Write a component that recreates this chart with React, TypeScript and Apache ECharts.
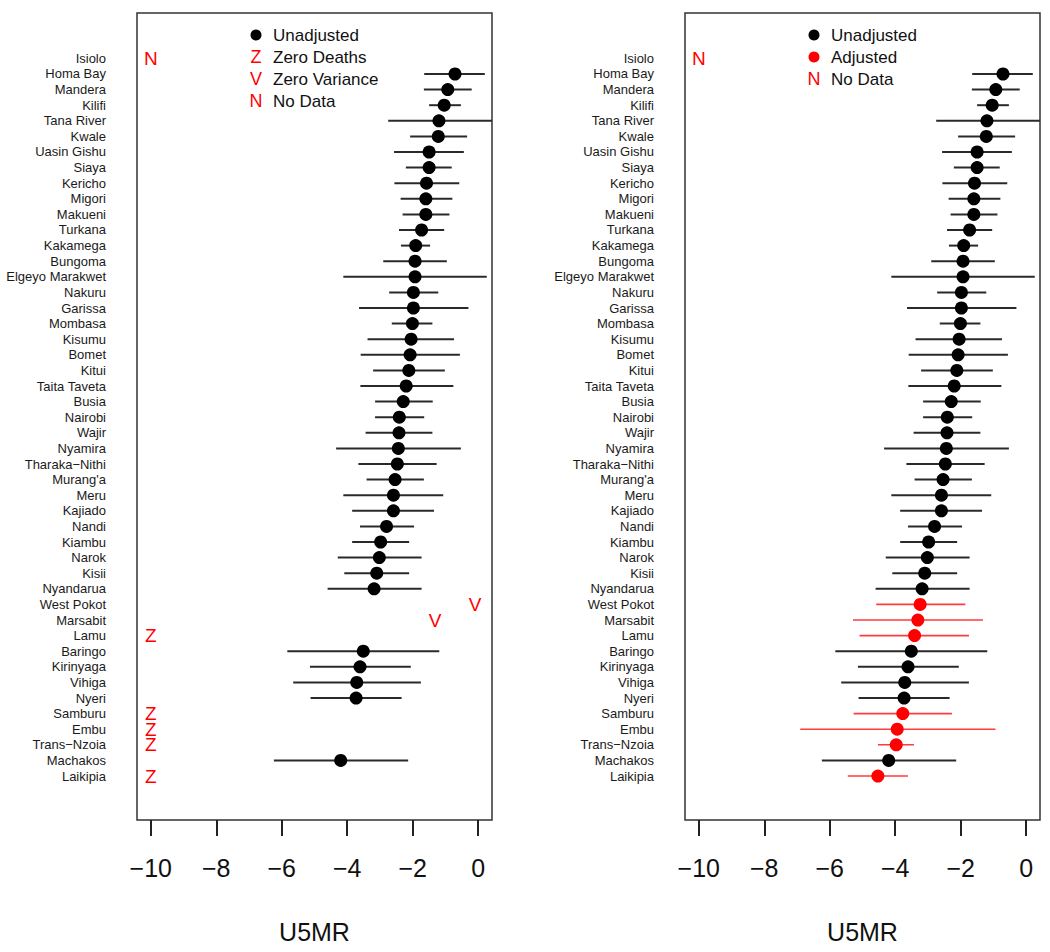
import React, { useEffect, useRef } from "react";
import * as echarts from "echarts";

const counties = [
  "Isiolo", "Homa Bay", "Mandera", "Kilifi", "Tana River", "Kwale", "Uasin Gishu", "Siaya",
  "Kericho", "Migori", "Makueni", "Turkana", "Kakamega", "Bungoma", "Elgeyo Marakwet", "Nakuru",
  "Garissa", "Mombasa", "Kisumu", "Bomet", "Kitui", "Taita Taveta", "Busia", "Nairobi", "Wajir",
  "Nyamira", "Tharaka\u2212Nithi", "Murang'a", "Meru", "Kajiado", "Nandi", "Kiambu", "Narok", "Kisii",
  "Nyandarua", "West Pokot", "Marsabit", "Lamu", "Baringo", "Kirinyaga", "Vihiga", "Nyeri",
  "Samburu", "Embu", "Trans\u2212Nzoia", "Machakos", "Laikipia",
];

// Unadjusted estimates (null = no estimate drawn)
const unadjEst = [
  null, -0.71, -0.93, -1.04, -1.2, -1.22, -1.5, -1.5, -1.58, -1.6, -1.6, -1.73, -1.91, -1.93, -1.93,
  -1.98, -1.98, -2.01, -2.05, -2.08, -2.12, -2.2, -2.29, -2.41, -2.42, -2.44, -2.47, -2.54, -2.59,
  -2.59, -2.8, -2.98, -3.02, -3.1, -3.18, null, null, null, -3.51, -3.61, -3.71, -3.73, null, null,
  null, -4.2, null,
];
const unadjLo = [
  null, -1.65, -1.66, -1.5, -2.75, -2.08, -2.57, -2.21, -2.56, -2.37, -2.31, -2.42, -2.36, -2.9,
  -4.12, -2.72, -3.64, -2.64, -3.38, -3.59, -3.21, -3.6, -3.15, -3.15, -3.44, -4.34, -3.66, -3.41,
  -4.12, -3.85, -3.61, -3.85, -4.29, -4.09, -4.6, null, null, null, -5.83, -5.14, -5.65, -5.12,
  null, null, null, -6.24, null,
];
const unadjHi = [
  null, 0.2, -0.2, -0.53, 0.5, -0.34, -0.44, -0.81, -0.58, -0.79, -0.88, -1.04, -1.47, -0.96, 0.26,
  -1.22, -0.3, -1.4, -0.74, -0.56, -1.02, -0.76, -1.39, -1.65, -1.4, -0.53, -1.27, -1.66, -1.07,
  -1.35, -1.96, -2.11, -1.73, -2.11, -1.73, null, null, null, -1.19, -2.06, -1.75, -2.34, null,
  null, null, -2.14, null,
];

// Adjusted estimates (right panel, red)
const adjCounties = ["West Pokot", "Marsabit", "Lamu", "Samburu", "Embu", "Trans\u2212Nzoia", "Laikipia"];
const adjEst = [-3.24, -3.31, -3.41, -3.77, -3.94, -3.97, -4.53];
const adjLo = [-4.58, -5.29, -5.09, -5.27, -6.9, -4.53, -5.45];
const adjHi = [-1.86, -1.32, -1.75, -2.27, -0.94, -3.43, -3.61];

// Letter flags
const leftFlagCounties = ["Isiolo", "West Pokot", "Marsabit", "Lamu", "Samburu", "Embu", "Trans\u2212Nzoia", "Laikipia"];
const leftFlagCodes = ["N", "V", "V", "Z", "Z", "Z", "Z", "Z"];
const leftFlagX = [-10, -0.1, -1.32, -10, -10, -10, -10, -10];
const rightFlagCounties = ["Isiolo"];
const rightFlagCodes = ["N"];
const rightFlagX = [-10];

const xTicks = [-10, -8, -6, -4, -2, 0];
const X_MIN = -10.42;
const X_MAX = 0.42;
const Y_MIN = -2.91;
const Y_MAX = 48.82;

const FONT = '"Liberation Sans", Arial, Helvetica, sans-serif';
const RED = "#ff0000";
const DARK = "#2a2a2a";

function idx(name: string) {
  return counties.indexOf(name);
}

function errorBarSeries(gi: number, data: number[][], color: string, width: number) {
  return {
    type: "custom",
    xAxisIndex: gi,
    yAxisIndex: gi,
    clip: true,
    encode: { x: [0, 1], y: 2 },
    data,
    renderItem: (params: any, api: any) => {
      const p1 = api.coord([api.value(0), api.value(2)]);
      const p2 = api.coord([api.value(1), api.value(2)]);
      return {
        type: "line",
        shape: { x1: p1[0], y1: p1[1], x2: p2[0], y2: p2[1] },
        style: { stroke: color, lineWidth: width },
      };
    },
    z: 2,
  };
}

function flagSeries(gi: number, names: string[], codes: string[], xs: number[]) {
  return {
    type: "custom",
    xAxisIndex: gi,
    yAxisIndex: gi,
    encode: { x: 0, y: 1 },
    data: names.map((n, i) => [xs[i], idx(n)]),
    renderItem: (params: any, api: any) => {
      const p = api.coord([api.value(0), api.value(1)]);
      return {
        type: "text",
        x: p[0],
        y: p[1],
        style: {
          text: codes[params.dataIndex],
          fill: RED,
          font: `19px ${FONT}`,
          textAlign: "center",
          textVerticalAlign: "middle",
        },
      };
    },
    z: 4,
  };
}

function xAxisCfg(gi: number) {
  return {
    type: "value",
    gridIndex: gi,
    min: X_MIN,
    max: X_MAX,
    position: "bottom",
    axisLine: { show: false, onZero: false },
    splitLine: { show: false },
    axisTick: { show: true, customValues: xTicks, length: 16, lineStyle: { color: "#222", width: 2 } },
    axisLabel: {
      customValues: xTicks,
      formatter: (v: number) => String(v).replace("-", "\u2212"),
      fontSize: 25,
      color: "#111",
      margin: 35,
      fontFamily: FONT,
    },
    name: "U5MR",
    nameLocation: "middle",
    nameGap: 99,
    nameTextStyle: { fontSize: 25, color: "#111", fontFamily: FONT },
  };
}

function yAxisCfg(gi: number) {
  return {
    type: "value",
    gridIndex: gi,
    inverse: true,
    min: Y_MIN,
    max: Y_MAX,
    axisLine: { show: false, onZero: false },
    axisTick: { show: false },
    splitLine: { show: false },
    axisLabel: {
      customValues: counties.map((_, i) => i),
      formatter: (v: number) => counties[Math.round(v)] ?? "",
      fontSize: 13,
      color: "#1a1a1a",
      margin: 31,
      fontFamily: FONT,
    },
  };
}

function legendItems(x: number, rows: { kind: string; mark: string; label: string }[]) {
  const els: any[] = [];
  rows.forEach((r, i) => {
    const y = 35 + i * 22;
    if (r.kind === "dot") {
      els.push({ type: "circle", shape: { cx: x, cy: y, r: 5.5 }, style: { fill: r.mark } });
    } else {
      els.push({
        type: "text",
        x,
        y,
        style: { text: r.mark, fill: RED, font: `18px ${FONT}`, textAlign: "center", textVerticalAlign: "middle" },
      });
    }
    els.push({
      type: "text",
      x: x + 17,
      y,
      style: { text: r.label, fill: "#111", font: `17px ${FONT}`, textAlign: "left", textVerticalAlign: "middle" },
    });
  });
  return els;
}

export default function App() {
  const ref = useRef<HTMLDivElement>(null);
  useEffect(() => {
    if (!ref.current) return;
    const chart = echarts.init(ref.current, null, { renderer: "svg" });

    const unadjBars: number[][] = [];
    const unadjPts: number[][] = [];
    counties.forEach((_, i) => {
      if (unadjEst[i] !== null && unadjLo[i] !== null && unadjHi[i] !== null) {
        unadjBars.push([unadjLo[i] as number, unadjHi[i] as number, i]);
        unadjPts.push([unadjEst[i] as number, i]);
      }
    });
    const adjBars = adjCounties.map((n, i) => [adjLo[i], adjHi[i], idx(n)]);
    const adjPts = adjCounties.map((n, i) => [adjEst[i], idx(n)]);

    const series: any[] = [];
    [0, 1].forEach((gi) => {
      series.push(errorBarSeries(gi, unadjBars, DARK, 2));
      series.push({
        type: "scatter",
        xAxisIndex: gi,
        yAxisIndex: gi,
        data: unadjPts,
        symbol: "circle",
        symbolSize: 13,
        itemStyle: { color: "#000", opacity: 1 },
        z: 3,
      });
    });
    series.push(errorBarSeries(1, adjBars, "#ff3b3b", 1.6));
    series.push({
      type: "scatter",
      xAxisIndex: 1,
      yAxisIndex: 1,
      data: adjPts,
      symbol: "circle",
      symbolSize: 13,
      itemStyle: { color: RED, opacity: 1 },
      z: 3,
    });
    series.push(flagSeries(0, leftFlagCounties, leftFlagCodes, leftFlagX));
    series.push(flagSeries(1, rightFlagCounties, rightFlagCodes, rightFlagX));

    chart.setOption({
      animation: false,
      backgroundColor: "#ffffff",
      grid: [
        { left: 137, top: 13, width: 355, height: 807, show: true, borderColor: "#333", borderWidth: 1.5, containLabel: false },
        { left: 685, top: 13, width: 355, height: 807, show: true, borderColor: "#333", borderWidth: 1.5, containLabel: false },
      ],
      xAxis: [xAxisCfg(0), xAxisCfg(1)],
      yAxis: [yAxisCfg(0), yAxisCfg(1)],
      series,
      graphic: [
        ...legendItems(256, [
          { kind: "dot", mark: "#000", label: "Unadjusted" },
          { kind: "letter", mark: "Z", label: "Zero Deaths" },
          { kind: "letter", mark: "V", label: "Zero Variance" },
          { kind: "letter", mark: "N", label: "No Data" },
        ]),
        ...legendItems(814, [
          { kind: "dot", mark: "#000", label: "Unadjusted" },
          { kind: "dot", mark: RED, label: "Adjusted" },
          { kind: "letter", mark: "N", label: "No Data" },
        ]),
      ],
    });
    return () => chart.dispose();
  }, []);
  return (
    <div
      ref={ref}
      style={{ position: "fixed", left: 0, top: 0, width: 1050, height: 952, background: "#fff" }}
    />
  );
}
